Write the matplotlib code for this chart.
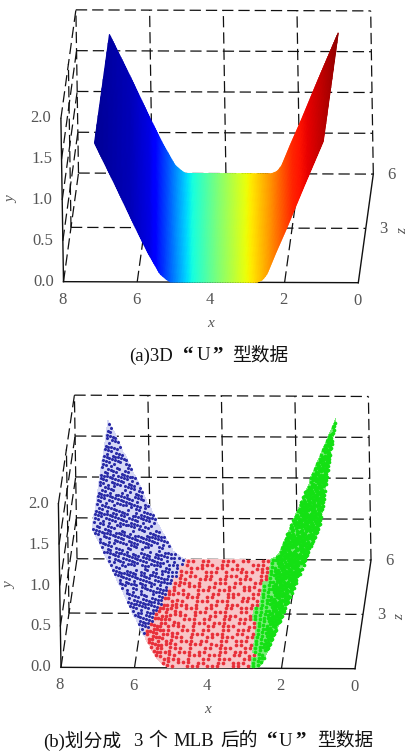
import matplotlib
matplotlib.use('Agg')
import matplotlib.pyplot as plt
from matplotlib.colors import ListedColormap
import numpy as np

# U profile
profile_x = [7.10, 6.55, 6.03, 5.70, 5.38, 5.20, 5.10, 4.00, 2.76, 2.60, 2.48, 2.23, 1.92, 1.41, 0.89]
profile_y = [1.70, 1.18, 0.67, 0.36, 0.10, 0.03, 0.00, 0.00, 0.00, 0.03, 0.10, 0.36, 0.67, 1.20, 1.73]

x_ticks = [8, 6, 4, 2, 0]
y_ticks = [0.0, 0.5, 1.0, 1.5, 2.0]
z_ticks = [3, 6]

# colour along the picture's width (px) -> position in jet
colour_px = [94, 130, 150, 167, 192, 217, 247, 270, 293, 333, 345]
colour_jet = [0.02, 0.05, 0.09, 0.20, 0.375, 0.50, 0.64, 0.75, 0.87, 0.97, 1.00]

# points of panel (b), estimated by eye across the surface from left to right,
# back (z=6) to front (z=0). lower case = a point, upper case = only the pale ground
# b/B first MLB, r/R second MLB, g/G third MLB
mlb_rows = [
    "bbBbbbBBbbbBbbbbBBbBbbBBBbbbBbbb" "rrRrrRRrrrRrrRRrr" "ggGggggGggggGgggGGggggGgggggGgg",
    "BbbbBBbbbbBbBBbbbbBbbbBbbbBBbbBb" "rRRrrrRrrRrRRrrrR" "gggggGgggGggggGgggggGgggGggggGg",
    "bbbBbbbBBbbbbBbbBbbbBBbbbbBbbbbR" "RrrrRRrrRrrrRRrrr" "gGggggggGgggGgggggGGgggggGggggg",
    "bBBbbbbBbbBbbbbBBbbbbBbbBbbbBbbr" "rrRRrrrRrRRrrrRrr" "ggggGgggggGgggggGgggggGggggGggg",
    "bbbBbbBBbbbbBbbbBbbBBbbbbBbbbBbr" "RrrRrrRRrrrRrRRrr" "ggGgggggGgggGGggggGgggggGgggggG",
    "BbbbbBbbbBbbBBbbbbBbbbbBbbBBbbbr" "rRRrrrRrrRRrrrRrr" "gggggGgggggGgggggGgggGgggggGggg",
    "bbBbbbBbbbBBbbbBbbbBbbBBbbbbbbRr" "rrRrRRrrrRrrRRrrG" "gGgggggGgggGgggggggGgggGGgggggg",
    "bbbBBbbbBbbbbBbbBBbbbbBbbbBbbbrr" "RrrrRrrRRrrRrrrRg" "ggggGgggggggGggGgggggGgggggGggg",
    "BbbbbBbbBBbbbBbbbbBbbBBbbbbBbbrR" "rRRrrrRrrrRRrrRrg" "ggGgggGgggggGgggggGggggGggggggG",
    "bbBbbbbBbbbBBbbbbBbbbbBbbBbbbBrr" "rrRrRRrrRrrrRRrrg" "gggggGggggGgggGgggggggGgggGgggg",
    "bbbBbbBBbbbbBbbBBbbbBbbbbBbbbrrR" "RrrrRrrRRrrRrrrRg" "gGggggggGgggggGGgggggGgggggGggg",
    "bBbbbbBbbbBbbbbBbbBBbbbBbbbBbrRr" "rRRrrrRrrrRRrrRrg" "ggggGggggggGgggggGgggGgggggggGg",
    "bbbBBbbbbBbBBbbbbBbbbBBbbbbbbrrr" "rrRrRRrrRrrrRRrrg" "ggGgggggGgggGgggggggGggggGggggg",
    "BbbbbBbbBbbbbBBbbBbbbbBbbBbbrRrr" "RrrrRrrRRrrRrrrgg" "gggggGgggggggGggGggggGgggggGggg",
    "bbBbbbBBbbbbBbbbbBBbbbbBbbbbRrrr" "rRRrrrRrrrRRrrRgg" "gGgggggGggggGgggggGgggggGgggggG",
    "bbbBbbbbBbbBBbbbBbbbbBbbBbbbrrRr" "rrRrRRrrRrrrRRrgg" "ggggGgggggGggggGgggggGggggGgggg",
    "bBbbbBbbbbBbbbbBbbBBbbbbbBbbrrrR" "RrrrRrrRRrrRrrrgg" "ggGgggggGgggggggGggGgggggGggggg",
    "bbbBBbbbBbbbBBbbbbBbbbBbbbbrRrrr" "rRRrrrRrrrRRrrRrg" "gggggGggggggGggggggGgggggGgggGg",
    "BbbbbBbbbBbbbbBbbBBbbbbBbbbrrrRr" "rrRrRRrrRrrrRRrrg" "gGggggGgggGgggggGgggggGgggggggG",
    "bbBbbbbBBbbbBbbbbbBbbbBBbbbRrrrR" "RrrrRrrRRrrRrrrRg" "ggggGggggggGgggggGgggGggggGgggg",
    "bbbBbbBbbbbBBbbbBbbbbBbbbbrrrRrr" "rRRrrrRrrrRRrrRrg" "ggGgggggGgggggGgggggggGgggggGgg",
    "bBbbbbbBbbBbbbbBbbBBbbbbBbrRrrrr" "rrRrRRrrRrrrRRrrg" "gggggGggggGggggggGgggGgggGggggg",
    "bbbBBbbbbBbbbBBbbbbBbbbbbbRrrrRr" "RrrrRrrRRrrRrrrRg" "gGgggggGgggggGgggggGgggggggGggg",
    "BbbbBbbBbbbBbbbbBbbBBbbbbbrrRrrr" "rRRrrrRrrrRRrrRrg" "ggggGgggggGgggggGggggGggggGgggg",
    "bbBbbbbBBbbbbBbbbbBbbbBbbrrrrRrr" "rrRrRRrrRrrrRRrrg" "ggGgggggggGggGgggggGgggggGggggg",
    "bbbBbbbbBbbBBbbbBbbbbbBbbRrrrrRr" "RrrrRrrRRrrRrrrRg" "gggggGgggggggGgggggGggggGgggggG",
    "bBbbbBbbbbBbbbbBBbbbBbbbbrrRrrrr" "rRRrrrRrrrRRrrRrr" "gGggggGggggGgggggggGgggggGggggg",
    "bbbBBbbbBbbbbBbbbBbbbbbbrRrrrrRr" "rrRrRRrrRrrrRRrrg" "ggggGgggggGgggGgggggGggggggGggg",
    "BbbbbBbbBBbbbbBbbbbBbbbBrrrRrrrr" "RrrrRrrRRrrRrrrRg" "ggGgggggGggggggGgggggGgggGggggg",
    "bbBbbbBbbbbBbbBBbbbbBbbbRrrrrRrr" "rRRrrrRrrrRRrrRrg" "gggGgggggGgggGgggggGgggggGggggG",
]
ground_colours = ['#d6d8f5', '#f8c6c8', '#7cee7c']
point_colours = ['#2b2ca8', '#e8303a', '#14e014']
point_sizes = [5, 7, 7]

# caption pieces: text and left edge (px)
caption_a = [('(a)3D', 129), ('“', 183), ('U', 197), ('”', 212), ('型数据', 232)]
caption_b = [('(b)划分成', 43), ('3', 133), ('个', 148), ('MLB', 173), ('后的', 220),
             ('“', 267), ('U', 279), ('”', 295), ('型数据', 317)]

LABEL = '#555555'
SERIF = ['Liberation Serif', 'Noto Sans CJK SC']

fig = plt.figure(figsize=(4.11, 7.51), dpi=100)
ax = fig.add_axes([0, 0, 1, 1])
ax.set_xlim(0, 411)
ax.set_ylim(751, 0)
ax.axis('off')


def project(x, y, z, o):
    # box of the picture is nearly parallel, so a plain affine map is enough
    x, y, z = np.asarray(x, float), np.asarray(y, float), np.asarray(z, float)
    sx = o['ox'] + o['ex'][0] * x + o['ey'][0] * y + o['ez'][0] * z
    sy = o['oy'] + o['ex'][1] * x + o['ey'][1] * y + o['ez'][1] * z
    return sx, sy


def seg(p, q, o, solid=False):
    sx, sy = project([p[0], q[0]], [p[1], q[1]], [p[2], q[2]], o)
    if solid:
        ax.plot(sx, sy, color='#111111', lw=1.0, zorder=1)
    else:
        ax.plot(sx, sy, color='#111111', lw=0.9, dashes=(9, 4), zorder=1)


def draw_box(o):
    # back wall
    for x in x_ticks:
        seg((x, 0, 6), (x, 2.0, 6), o)
    for y in y_ticks:
        seg((8, y, 6), (0, y, 6), o)
        seg((8, y, 0), (8, y, 6), o)
    # floor
    for x in [6, 2]:
        seg((x, 0, 0), (x, 0, 6), o)
    seg((8, 0, 3), (0, 0, 3), o)
    seg((8, 0, 3), (8, 2.0, 3), o)
    # solid edges
    seg((8, 0, 0), (0, 0, 0), o, True)
    seg((0, 0, 0), (0, 0, 6), o, True)
    seg((8, 0, 0), (8, 2.0, 0), o, True)


def draw_labels(o):
    for x in x_ticks:
        sx, sy = project(x, 0, 0, o)
        ax.text(sx - 1, sy + 18, str(x), ha='center', va='center', fontsize=12, color=LABEL, family=SERIF)
    for y in y_ticks:
        sx, sy = project(8, y, 0, o)
        ax.text(sx - 20, sy, '%.1f' % y, ha='center', va='center', fontsize=12, color=LABEL, family=SERIF)
    for z in z_ticks:
        sx, sy = project(0, 0, z, o)
        ax.text(sx + 18, sy + 1, str(z), ha='center', va='center', fontsize=12, color=LABEL, family=SERIF)
    sx, sy = project(4, 0, 0, o)
    ax.text(sx, sy + 41, 'x', ha='center', va='center', fontsize=11, style='italic', color=LABEL, family=SERIF)
    sx, sy = project(8, 1.0, 0, o)
    ax.text(sx - 50, sy, 'y', ha='center', va='center', fontsize=11, style='italic', rotation=90, color=LABEL, family=SERIF)
    sx, sy = project(0, 0, 3, o)
    ax.text(sx + 37, sy + 3, 'z', ha='center', va='center', fontsize=11, style='italic', rotation=90, color=LABEL, family=SERIF)


def draw_caption(pieces, y):
    for text, left in pieces:
        quote = text in '“”'
        ax.text(left, y, text, ha='left', va='center', fontsize=15 if quote else 13.5, color='#111111',
                family=SERIF, weight='bold' if quote else 'normal')


def surface_axis(o, n):
    # cut the profile evenly along its length on the page
    sx, sy = project(profile_x, profile_y, np.zeros(len(profile_x)), o)
    arc = np.r_[0, np.cumsum(np.hypot(np.diff(sx), np.diff(sy)))]
    u = np.linspace(0, arc[-1], n)
    return np.interp(u, arc, profile_x), np.interp(u, arc, profile_y)


# panel (a)
a = {'ox': 358.3, 'oy': 282.7, 'ex': (-36.85, -0.13), 'ey': (-1.3, -81.6), 'ez': (2.5, -18.1)}
draw_box(a)
px, py = surface_axis(a, 160)
pz = np.linspace(0, 6, 13)
X = np.array([project(px, py, np.full(len(px), z), a)[0] for z in pz])
Y = np.array([project(px, py, np.full(len(px), z), a)[1] for z in pz])
C = np.interp(X, colour_px, colour_jet)
ax.pcolormesh(X, Y, C, cmap='jet', vmin=0, vmax=1, shading='gouraud', zorder=2)
draw_labels(a)
draw_caption(caption_a, 356)

# panel (b)
b = {'ox': 355.0, 'oy': 668.7, 'ex': (-36.75, -0.17), 'ey': (-1.3, -81.8), 'ez': (2.67, -18.1)}
draw_box(b)
nrow, ncol = len(mlb_rows), len(mlb_rows[0])
px, py = surface_axis(b, ncol + 1)
pz = np.linspace(6, 0, nrow + 1)
X = np.array([project(px, py, np.full(len(px), z), b)[0] for z in pz])
Y = np.array([project(px, py, np.full(len(px), z), b)[1] for z in pz])
grid = np.array([list(r) for r in mlb_rows])
lower = np.char.lower(grid)
cluster = (lower == 'r') * 1 + (lower == 'g') * 2
ax.pcolormesh(X, Y, cluster, cmap=ListedColormap(ground_colours), vmin=-0.5, vmax=2.5, zorder=2)
xc = (X[:-1, :-1] + X[1:, 1:]) / 2
yc = (Y[:-1, :-1] + Y[1:, 1:]) / 2
for i, col in enumerate(point_colours):
    mark = (cluster == i) & (grid == lower)
    ax.scatter(xc[mark], yc[mark], s=point_sizes[i], color=col, linewidths=0, zorder=3)
draw_labels(b)
draw_caption(caption_b, 741)

plt.savefig('out.png', dpi=100)
